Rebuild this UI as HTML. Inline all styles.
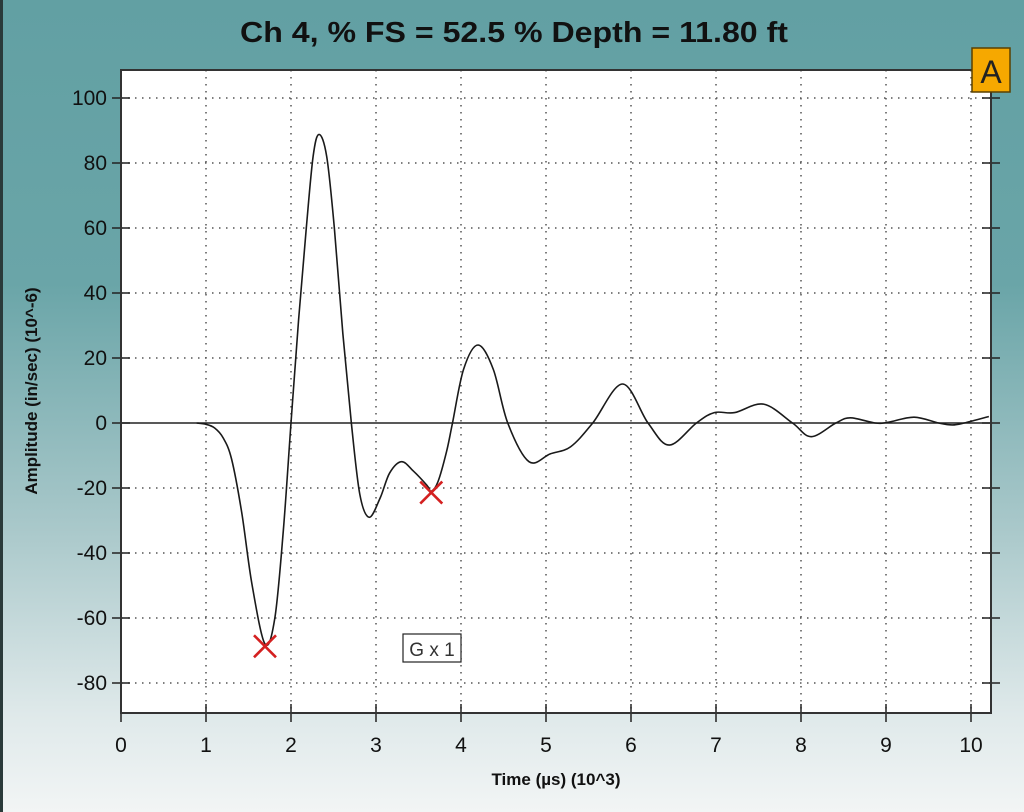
<!DOCTYPE html>
<html><head><meta charset="utf-8"><style>
html,body{margin:0;padding:0;width:1024px;height:812px;overflow:hidden}
body{background:linear-gradient(180deg,#62a0a3 0%,#6aa5a8 35%,#a9c8ca 65%,#dfe9ea 88%,#f2f5f5 100%);font-family:"Liberation Sans",sans-serif}
</style></head><body>
<svg width="1024" height="812" viewBox="0 0 1024 812" id="chart" style="position:absolute;left:0;top:0">
<rect x="0" y="0" width="3" height="812" fill="#2a3a3a"/>
<text x="240" y="42" font-size="29" font-weight="bold" fill="#111" textLength="548" lengthAdjust="spacingAndGlyphs">Ch 4, % FS = 52.5 % Depth = 11.80 ft</text>
<rect x="121" y="70" width="870" height="643" fill="#fff"/>
<g id="grid"></g>
<g id="axes"></g>
<path id="wave" fill="none" stroke="#1a1a1a" stroke-width="1.6"/>
<g id="markers"></g>
<rect x="403" y="634" width="58" height="28" fill="#fff" stroke="#222" stroke-width="1.2"/>
<text x="432" y="656" text-anchor="middle" font-size="19" fill="#333">G x 1</text>
<rect x="972" y="48" width="38" height="44" fill="#f6a800" stroke="#5a4000" stroke-width="1.5"/>
<text x="991" y="83" text-anchor="middle" font-size="32" fill="#222">A</text>
<text x="0" y="0" transform="translate(37 391) rotate(-90)" text-anchor="middle" font-size="17" font-weight="bold" fill="#111">Amplitude (in/sec) (10^-6)</text>
<text x="556" y="785" text-anchor="middle" font-size="17" font-weight="bold" fill="#111">Time (µs) (10^3)</text>
</svg>
<script>
const xTicks=[0,1,2,3,4,5,6,7,8,9,10];
const yTicks=[100,80,60,40,20,0,-20,-40,-60,-80];
const times=[0.89,1.0,1.1,1.2,1.30,1.42,1.54,1.694,1.81,1.91,2.0,2.09,2.18,2.26,2.33,2.42,2.51,2.61,2.71,2.81,2.92,3.05,3.16,3.30,3.44,3.60,3.65,3.73,3.83,3.90,4.03,4.2,4.38,4.55,4.8,5.05,5.29,5.55,5.9,6.2,6.45,6.77,6.98,7.22,7.56,7.9,8.12,8.41,8.58,8.87,9.02,9.33,9.62,9.78,9.92,10.21];
const amps=[0,-0.4,-1.5,-4.5,-11,-27.5,-49.5,-68,-60,-33,0,32,60,82,88.8,82,60,27.5,0,-22,-29,-23,-15.4,-11.9,-14.8,-19.2,-21,-18,-8.8,0,16.5,24,16.5,0,-11.9,-9.5,-7.3,0,12,0,-6.8,0,3.2,3.2,5.8,0,-4.2,0,1.6,0,0.2,1.8,0,-0.6,0,2];
const markerTimes=[1.694,3.65];
const markerAmps=[-68.7,-21.4];
const X0=121,X1=991,Y0=70,Y1=713;
const xs=t=>121+t*85;
const ys=a=>423-a*3.25;
const NS='http://www.w3.org/2000/svg';
function mk(tag,attrs,parent){const e=document.createElementNS(NS,tag);for(const k in attrs)e.setAttribute(k,attrs[k]);parent.appendChild(e);return e;}
const grid=document.getElementById('grid'),axes=document.getElementById('axes');
xTicks.forEach(t=>{
 if(t>0){const l=mk('line',{x1:xs(t),x2:xs(t),y1:Y0,y2:Y1,stroke:'#555','stroke-width':1.5,'stroke-dasharray':'1.5 5.5'},grid);
 
 }
 const tk=mk('line',{x1:xs(t),x2:xs(t),y1:Y1-9,y2:Y1+9,stroke:'#222','stroke-width':1.5},axes);
 
 
 const tx=mk('text',{x:xs(t),y:752,'text-anchor':'middle','font-size':21,fill:'#111'},axes);
 tx.textContent=t;
 
 
});
yTicks.forEach(v=>{
 if(v!==0){const l=mk('line',{x1:X0,x2:X1,y1:ys(v),y2:ys(v),stroke:'#555','stroke-width':1.5,'stroke-dasharray':'1.5 5.5'},grid);
 
 }
 const tk=mk('line',{x1:X0-9,x2:X0+9,y1:ys(v),y2:ys(v),stroke:'#222','stroke-width':1.5},axes);
 
 
 const tk2=mk('line',{x1:X1-9,x2:X1+9,y1:ys(v),y2:ys(v),stroke:'#222','stroke-width':1.5},axes);
 
 
 const tx=mk('text',{x:107,y:ys(v)+7,'text-anchor':'end','font-size':21,fill:'#111'},axes);
 tx.textContent=v;
 
 
});
const zl=mk('line',{x1:X0,x2:X1,y1:ys(0),y2:ys(0),stroke:'#222','stroke-width':1.6},axes);


const fr=mk('path',{d:`M${X0} ${Y1} V${Y0} H${X1} V${Y1} Z`,fill:'none',stroke:'#333','stroke-width':2},axes);


const P=times.map((t,i)=>[xs(t),ys(amps[i])]);
let d=`M${P[0][0]} ${P[0][1]}`;
for(let i=0;i<P.length-1;i++){const p0=P[Math.max(0,i-1)],p1=P[i],p2=P[i+1],p3=P[Math.min(P.length-1,i+2)];
 const c1=[p1[0]+(p2[0]-p0[0])/6,p1[1]+(p2[1]-p0[1])/6],c2=[p2[0]-(p3[0]-p1[0])/6,p2[1]-(p3[1]-p1[1])/6];
 d+=` C${c1[0]} ${c1[1]} ${c2[0]} ${c2[1]} ${p2[0]} ${p2[1]}`;}
document.getElementById('wave').setAttribute('d',d);
const mg=document.getElementById('markers');
markerTimes.forEach((t,i)=>{const x=xs(t),y=ys(markerAmps[i]);
 const m=mk('path',{d:`M${x-11} ${y-11} L${x+11} ${y+11} M${x+11} ${y-11} L${x-11} ${y+11}`,stroke:'#d42020','stroke-width':2.6,fill:'none'},mg);
 
 
});
</script>
</body></html>
